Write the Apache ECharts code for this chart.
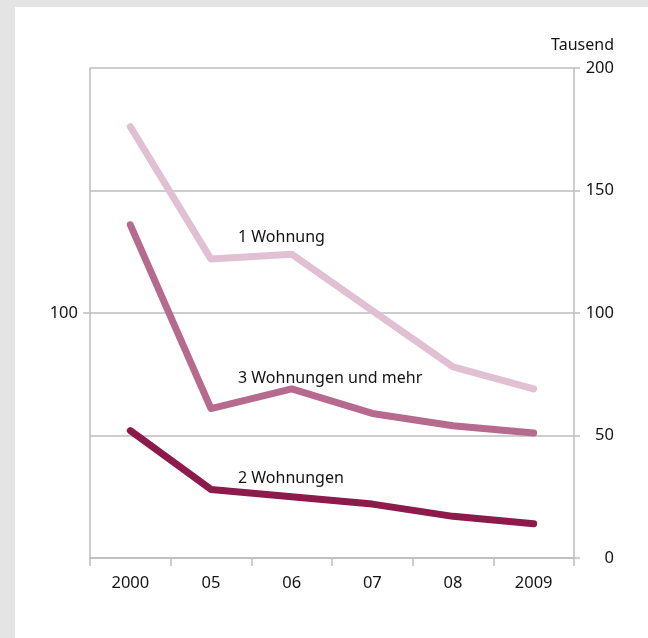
<!DOCTYPE html>
<html>
<head>
<meta charset="utf-8">
<script src="https://cdn.jsdelivr.net/npm/echarts@6/dist/echarts.min.js"></script>
<style>
html,body{margin:0;padding:0;background:#fff;}
#chart{width:648px;height:638px;}
</style>
</head>
<body>
<div id="chart"></div>
<script>
const categories = ['2000', '05', '06', '07', '08', '2009'];
const einWohnung = [176, 122, 124, 101, 78, 69];
const dreiWohnungen = [136, 61, 69, 59, 54, 51];
const zweiWohnungen = [52, 28, 25, 22, 17, 14];
const rightTicks = [0, 50, 100, 150, 200];
const leftTicks = [100];
const seriesNames = ['1 Wohnung', '3 Wohnungen und mehr', '2 Wohnungen'];
const unitLabel = 'Tausend';

const FONT = '"Noto Sans", "DejaVu Sans", sans-serif';
const TXT = '#141414';
const AX = '#bdbdbd';

const chart = echarts.init(document.getElementById('chart'), null, {renderer: 'canvas'});
const lineSeries = (name, data, color) => ({
  name, type: 'line', data, yAxisIndex: 1,
  showSymbol: false, symbol: 'none', silent: true,
  lineStyle: {color, width: 7, cap: 'round', join: 'round'},
  z: 3
});

chart.setOption({
  backgroundColor: '#fff',
  animation: false,
  textStyle: {fontFamily: FONT},
  grid: {left: 90, right: 74, top: 68, bottom: 80, containLabel: false},
  xAxis: {
    type: 'category', data: categories, boundaryGap: true,
    axisLine: {show: true, lineStyle: {color: AX, width: 1.5}},
    axisTick: {show: true, length: 8, lineStyle: {color: AX, width: 1.5}},
    axisLabel: {margin: 17, fontSize: 16.5, color: TXT, fontFamily: FONT},
    splitLine: {show: false}
  },
  yAxis: [
    {
      type: 'value', position: 'left', min: 0, max: 200, interval: 100,
      axisLine: {show: true, lineStyle: {color: AX, width: 1.5}},
      axisTick: {show: true, length: 7, customValues: leftTicks, lineStyle: {color: AX, width: 1.5}},
      axisLabel: {margin: 12, fontSize: 16.5, color: TXT, fontFamily: FONT, customValues: leftTicks},
      splitLine: {show: false}
    },
    {
      type: 'value', position: 'right', min: 0, max: 200, interval: 50,
      axisLine: {show: true, lineStyle: {color: AX, width: 1.5}},
      axisTick: {show: true, length: 6, customValues: rightTicks, lineStyle: {color: AX, width: 1.5}},
      axisLabel: {margin: 40, align: 'right', fontSize: 16.5, color: TXT, fontFamily: FONT, customValues: rightTicks},
      splitLine: {show: true, lineStyle: {color: AX, width: 1.5}}
    }
  ],
  graphic: [
    {type: 'rect', left: 0, top: 0, shape: {width: 648, height: 7}, style: {fill: '#e4e4e4'}, silent: true},
    {type: 'rect', left: 0, top: 0, shape: {width: 15, height: 638}, style: {fill: '#e4e4e4'}, silent: true},
    {type: 'text', x: 614, y: 45, style: {text: unitLabel, fill: TXT, font: '16px ' + FONT, textAlign: 'right', textVerticalAlign: 'middle'}},
    {type: 'text', x: 238, y: 237, style: {text: seriesNames[0], fill: TXT, font: '16px ' + FONT, textAlign: 'left', textVerticalAlign: 'middle'}},
    {type: 'text', x: 238, y: 378, style: {text: seriesNames[1], fill: TXT, font: '16px ' + FONT, textAlign: 'left', textVerticalAlign: 'middle'}},
    {type: 'text', x: 238, y: 478, style: {text: seriesNames[2], fill: TXT, font: '16px ' + FONT, textAlign: 'left', textVerticalAlign: 'middle'}}
  ],
  series: [
    lineSeries(seriesNames[0], einWohnung, '#e0c0d2'),
    lineSeries(seriesNames[1], dreiWohnungen, '#b66a8e'),
    lineSeries(seriesNames[2], zweiWohnungen, '#8c1a4b')
  ]
});
</script>
</body>
</html>
